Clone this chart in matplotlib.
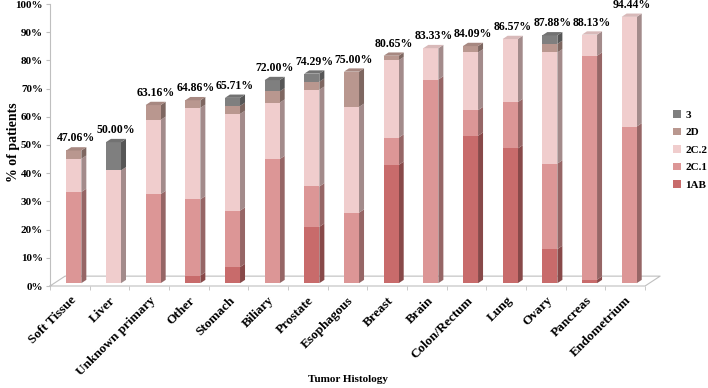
import numpy as np
import matplotlib
matplotlib.use("Agg")
import matplotlib.pyplot as plt
from matplotlib.colors import to_rgb

categories = ['Soft Tissue', 'Liver', 'Unknown primary', 'Other', 'Stomach', 'Biliary',
              'Prostate', 'Esophagous', 'Breast', 'Brain', 'Colon/Rectum', 'Lung',
              'Ovary', 'Pancreas', 'Endometrium']
v_1ab = [0, 0, 0, 2.70, 5.71, 0, 20.00, 0, 41.94, 0, 52.27, 47.76, 12.12, 1.25, 0]
v_2c1 = [32.35, 0, 31.58, 27.03, 20.00, 44.00, 14.29, 25.00, 9.68, 72.22, 9.09, 16.42, 30.30, 79.38, 55.56]
v_2c2 = [11.76, 40.00, 26.32, 32.43, 34.29, 20.00, 34.29, 37.50, 27.42, 11.11, 20.45, 22.39, 39.39, 7.50, 38.89]
v_2d = [2.94, 0, 5.26, 2.70, 2.86, 4.00, 2.86, 12.50, 1.61, 0, 2.27, 0, 3.03, 0, 0]
v_3 = [0, 10.00, 0, 0, 2.86, 4.00, 2.86, 0, 0, 0, 0, 0, 3.03, 0, 0]
totals = [47.06, 50.00, 63.16, 64.86, 65.71, 72.00, 74.29, 75.00, 80.65, 83.33,
          84.09, 86.57, 87.88, 88.13, 94.44]

series = [('1AB', v_1ab, '#C86B6B'),
          ('2C.1', v_2c1, '#DC9696'),
          ('2C.2', v_2c2, '#F0CDCD'),
          ('2D', v_2d, '#B9978F'),
          ('3', v_3, '#7F7F7F')]

plt.rcParams['font.family'] = ['Liberation Serif', 'DejaVu Serif']
plt.rcParams['font.weight'] = 'bold'

# 3d look: bar shift on floor, bar depth, floor depth
z0, sx = 1.0, 0.10
dx, dy = 0.126, 1.17
fdx, fdy = 0.38, 3.5
grey = '#BFBFBF'


def shade(c, f):
    r, g, b = to_rgb(c)
    return (r * f, g * f, b * f)


fig = plt.figure(figsize=(7.08, 3.88), dpi=100)
ax = fig.add_axes([50 / 708, (388 - 286) / 388, 610 / 708, 282 / 388])
x = np.arange(len(categories))

bottom = np.zeros(len(categories))
handles = []
tops = {}
for name, vals, col in series:
    vals = np.array(vals)
    bars = ax.bar(x + sx, vals, width=0.38, bottom=bottom + z0, color=col,
                  label=name, zorder=3, clip_on=False)
    handles.append(bars)
    for i, p in enumerate(bars.patches):
        if vals[i] <= 0:
            continue
        x1 = p.get_x() + p.get_width()
        y0, y1 = p.get_y(), p.get_y() + p.get_height()
        ax.fill([x1, x1 + dx, x1 + dx, x1], [y0, y0 + dy, y1 + dy, y1],
                color=shade(col, 0.68), zorder=2, lw=0, clip_on=False)
        tops[i] = (p.get_x(), x1, y1, col)
    bottom += vals

for i, (xa, xb, yt, col) in tops.items():
    ax.fill([xa, xb, xb + dx, xa + dx], [yt, yt, yt + dy, yt + dy],
            color=shade(col, 0.9), zorder=3, lw=0, clip_on=False)
    ax.text((xa + xb + dx) / 2, yt + dy + 1.0, '%.2f%%' % totals[i],
            ha='center', va='bottom', fontsize=8.5, fontweight='bold')

# floor
x0, x1 = -0.5, len(categories) - 0.5
ax.plot([x0, x1, x1 + fdx, x0 + fdx, x0], [0, 0, fdy, fdy, 0],
        color=grey, lw=0.8, zorder=1, clip_on=False)

ax.set_xlim(-0.5, -0.5 + 610 / 39.67)
ax.set_ylim(0, 100)
for s in ['top', 'right', 'bottom']:
    ax.spines[s].set_visible(False)
ax.spines['left'].set_color(grey)
ax.spines['left'].set_linewidth(0.8)

ax.set_yticks(np.arange(0, 101, 10))
ax.set_yticklabels(['%d%%' % t for t in range(0, 101, 10)], fontsize=8)
ax.tick_params(axis='y', length=3, color=grey, pad=2)

ax.set_xticks(x)
ax.set_xticklabels(categories, rotation=45, ha='right', rotation_mode='anchor', fontsize=9.5)
ax.tick_params(axis='x', length=0, pad=6)
ax.set_xticks(np.arange(-0.5, len(categories)), minor=True)
ax.tick_params(axis='x', which='minor', length=3, color=grey)

fig.text(14 / 708, 1 - 142 / 388, '% of patients', rotation=90, ha='center', va='center',
         fontsize=10, fontweight='bold')
fig.text(348 / 708, 1 - 380 / 388, 'Tumor Histology', ha='center', va='center',
         fontsize=8, fontweight='bold')

fig.legend(handles[::-1], [s[0] for s in series][::-1], loc='center left',
           bbox_to_anchor=(673 / 708, 1 - 150 / 388), frameon=False, fontsize=8,
           handlelength=0.7, handleheight=0.7, handletextpad=0.4, labelspacing=0.7,
           borderpad=0, borderaxespad=0)

fig.savefig('out.png', dpi=100)
